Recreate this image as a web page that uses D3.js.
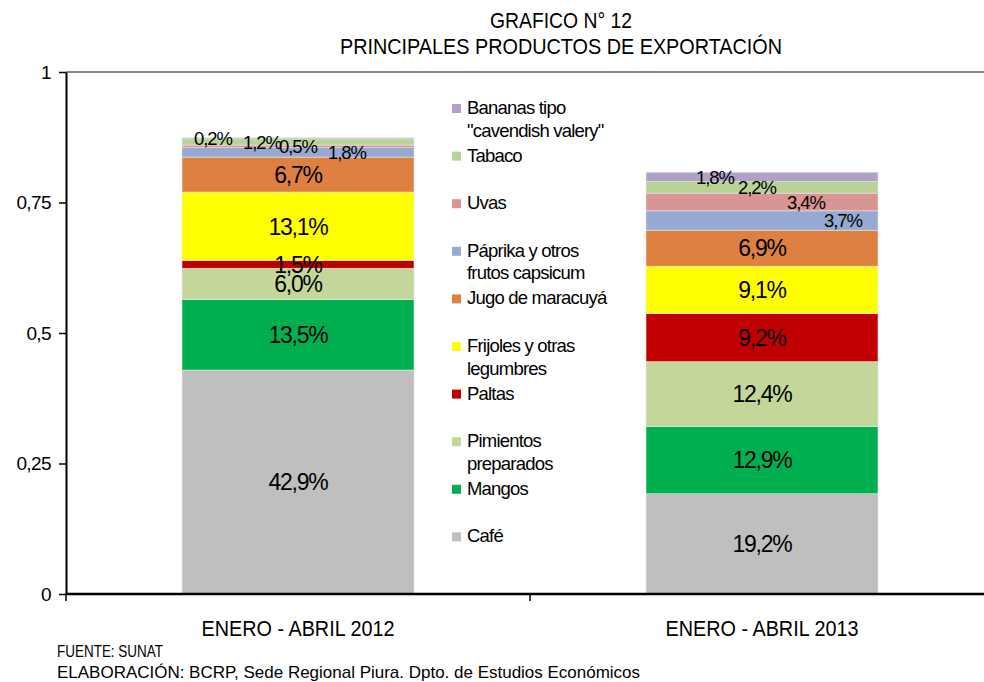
<!DOCTYPE html>
<html>
<head>
<meta charset="utf-8">
<script src="https://cdn.jsdelivr.net/npm/d3@7"></script>
<style>
  body { margin: 0; background: #fff; }
  svg { font-family: "Liberation Sans", Arial, sans-serif; }
</style>
</head>
<body>
<svg width="984" height="682"></svg>
<script>
// data (share of exports, %)
var categories = ["ENERO - ABRIL 2012", "ENERO - ABRIL 2013"]
var products = ["Café", "Mangos", "Pimientos preparados", "Paltas", "Frijoles y otras legumbres",
  "Jugo de maracuyá", "Páprika y otros frutos capsicum", "Uvas", "Tabaco", "Bananas tipo \"cavendish valery\""]
var legendLines = [["Café"], ["Mangos"], ["Pimientos", "preparados"], ["Paltas"], ["Frijoles y otras", "legumbres"],
  ["Jugo de maracuyá"], ["Páprika y otros", "frutos capsicum"], ["Uvas"], ["Tabaco"], ["Bananas tipo", "\"cavendish valery\""]]
var share2012 = [42.9, 13.5, 6.0, 1.5, 13.1, 6.7, 1.8, 0.5, 1.2, 0.2]
var share2013 = [19.2, 12.9, 12.4, 9.2, 9.1, 6.9, 3.7, 3.4, 2.2, 1.8]
var yTicks = [0, 0.25, 0.5, 0.75, 1]
var colors = ["#BFBFBF", "#00B050", "#C4D79B", "#C00000", "#FFFF00",
  "#DE8140", "#95A9D2", "#D99594", "#B9D396", "#B1A0C7"]

// small labels at the top of each bar are shifted sideways
var labelShift = [
  {6: 49, 7: 0, 8: -36, 9: -85},
  {6: 81, 7: 44, 8: -5, 9: -47}
]

var svg = d3.select("svg")
var loc = d3.formatLocale({decimal: ",", thousands: ".", grouping: [3], currency: ["", ""]})
var fmtTick = loc.format("~g")
var fmtPct = loc.format(".1f")

var table = categories.map(function (c, i) {
  var vals = i == 0 ? share2012 : share2013
  var row = {cat: c}
  products.forEach(function (p, j) { row[p] = vals[j] / 100 })
  return row
})

var series = d3.stack().keys(products)(table)

var x = d3.scaleBand().domain(categories).range([66, 994]).paddingInner(0.5).paddingOuter(0.25)
var y = d3.scaleLinear().domain([0, 1]).range([594, 72])

// title
var title = svg.append("g").attr("text-anchor", "middle").attr("font-size", 22).attr("fill", "#000")
title.append("text").attr("x", 561).attr("y", 28).attr("textLength", 142).attr("lengthAdjust", "spacingAndGlyphs").text("GRAFICO N° 12")
title.append("text").attr("x", 561).attr("y", 54).attr("textLength", 442).attr("lengthAdjust", "spacingAndGlyphs").text("PRINCIPALES PRODUCTOS DE EXPORTACIÓN")

// top line at 1
svg.append("line").attr("x1", 66).attr("x2", 984).attr("y1", y(1)).attr("y2", y(1))
  .attr("stroke", "#868686").attr("stroke-width", 2)

// bars
var layer = svg.append("g").selectAll("g").data(series).enter().append("g")
  .attr("fill", function (d, i) { return colors[i] })

layer.selectAll("rect").data(function (d) { return d }).enter().append("rect")
  .attr("x", function (d) { return x(d.data.cat) })
  .attr("width", x.bandwidth())
  .attr("y", function (d) { return y(d[1]) })
  .attr("height", function (d) { return y(d[0]) - y(d[1]) })
  .attr("stroke", "#e6e6e6").attr("stroke-width", 0.6)

// value labels
series.forEach(function (s, i) {
  s.forEach(function (d, k) {
    var v = d[1] - d[0]
    var shift = labelShift[k][i]
    var small = shift !== undefined
    svg.append("text")
      .attr("x", x(d.data.cat) + x.bandwidth() / 2 + (small ? shift : 0))
      .attr("y", (y(d[0]) + y(d[1])) / 2)
      .attr("dy", "0.36em")
      .attr("text-anchor", "middle")
      .attr("font-size", small ? 18.5 : 23)
      .attr("letter-spacing", small ? -1.1 : -1.2)
      .attr("fill", "#000")
      .text(fmtPct(v * 100) + "%")
  })
})

// y axis
var yAxis = svg.append("g").attr("transform", "translate(66,0)")
  .call(d3.axisLeft(y).tickValues(yTicks).tickFormat(fmtTick).tickSize(7).tickSizeOuter(0))
yAxis.select(".domain").attr("stroke", "#000").attr("stroke-width", 2)
yAxis.selectAll(".tick line").attr("stroke", "#000").attr("stroke-width", 1.5)
yAxis.selectAll(".tick text").attr("font-size", 19).attr("letter-spacing", -0.6)
  .attr("font-family", "Liberation Sans, Arial, sans-serif")
  .attr("fill", "#000").attr("x", -15)

// x axis
svg.append("line").attr("x1", 66).attr("x2", 984).attr("y1", y(0)).attr("y2", y(0))
  .attr("stroke", "#000").attr("stroke-width", 2.5)
svg.selectAll(".xtick").data([66, 66 + x.step()]).enter().append("line")
  .attr("x1", function (d) { return d }).attr("x2", function (d) { return d })
  .attr("y1", y(0)).attr("y2", y(0) + 7).attr("stroke", "#000").attr("stroke-width", 1.5)

svg.selectAll(".xlab").data(categories).enter().append("text")
  .attr("x", function (d) { return x(d) + x.bandwidth() / 2 })
  .attr("y", 636)
  .attr("text-anchor", "middle")
  .attr("font-size", 22)
  .attr("textLength", 193).attr("lengthAdjust", "spacingAndGlyphs")
  .text(function (d) { return d })

// legend (top entry first)
var legend = svg.append("g")
var order = d3.range(products.length).reverse()
order.forEach(function (j, n) {
  var ly = 107 + n * 47.6
  legend.append("rect").attr("x", 452).attr("y", ly - 3).attr("width", 9).attr("height", 9).attr("fill", colors[j])
  legendLines[j].forEach(function (line, m) {
    legend.append("text").attr("x", 467).attr("y", ly + m * 22.5 + 7)
      .attr("font-size", 18.5).attr("letter-spacing", -0.8).attr("fill", "#000").text(line)
  })
})

// footer
svg.append("text").attr("x", 57).attr("y", 657).attr("font-size", 17)
  .attr("textLength", 106).attr("lengthAdjust", "spacingAndGlyphs").text("FUENTE: SUNAT")
svg.append("text").attr("x", 57).attr("y", 678).attr("font-size", 17)
  .attr("textLength", 583).attr("lengthAdjust", "spacingAndGlyphs")
  .text("ELABORACIÓN: BCRP, Sede Regional Piura. Dpto. de Estudios Económicos")
</script>
</body>
</html>
